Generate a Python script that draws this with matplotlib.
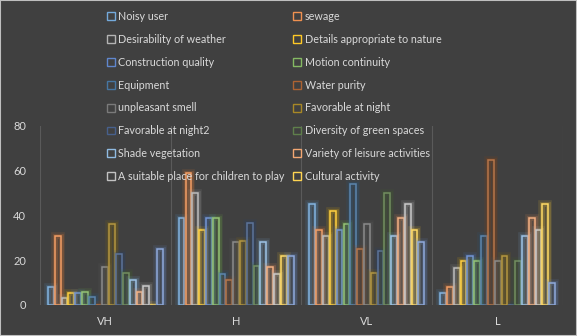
import numpy as np
import matplotlib
matplotlib.use("Agg")
import matplotlib.pyplot as plt
from matplotlib.patches import Rectangle
from matplotlib import colors as mcolors

plt.rcParams["font.family"] = ["Lato", "DejaVu Sans"]

# groups on the x axis
groups = ["VH", "H", "VL", "L"]

# one list per criterion, values for VH, H, VL, L
noisy_user = [8, 39, 45, 5.5]
sewage = [31, 59, 33.5, 8]
desirability_weather = [3, 50, 31, 16.5]
details_nature = [5.5, 33.5, 42, 19.5]
construction_quality = [5.5, 39, 33.5, 22]
motion_continuity = [6, 39, 36, 19.5]
equipment = [3.5, 14, 54, 31]
water_purity = [0, 11, 25, 65]
unpleasant_smell = [17, 28, 36, 19.5]
favorable_night = [36, 28.5, 14.5, 22]
favorable_night2 = [23, 36.5, 24, 0]
green_diversity = [14.5, 17.5, 50, 19.5]
shade_vegetation = [11, 28, 31, 31]
leisure_variety = [6, 17, 39, 39]
children_place = [8.5, 14, 45, 33.5]
cultural_activity = [0, 22, 33.5, 45]
other = [25, 22, 28, 10]

series_names = ["Noisy user", "sewage", "Desirability of weather",
                "Details appropriate to nature", "Construction quality",
                "Motion continuity", "Equipment", "Water purity",
                "unpleasant smell", "Favorable at night", "Favorable at night2",
                "Diversity of green spaces", "Shade vegetation",
                "Variety of leisure activities",
                "A suitable place for children to play", "Cultural activity",
                None]
series_values = [noisy_user, sewage, desirability_weather, details_nature,
                 construction_quality, motion_continuity, equipment,
                 water_purity, unpleasant_smell, favorable_night,
                 favorable_night2, green_diversity, shade_vegetation,
                 leisure_variety, children_place, cultural_activity, other]
series_colors = ["#5B9BD5", "#ED7D31", "#A5A5A5", "#FFC000", "#4472C4",
                 "#70AD47", "#255E91", "#9E480E", "#636363", "#997300",
                 "#264478", "#43682B", "#7CAFDD", "#F1975A", "#B7B7B7",
                 "#FFCD33", "#698ED0"]

bg = "#404040"
txt = "#D9D9D9"


def lighten(c, amt):
    r, g, b = mcolors.to_rgb(c)
    return (r + (1 - r) * amt, g + (1 - g) * amt, b + (1 - b) * amt)


fig = plt.figure(figsize=(5.77, 3.36), dpi=100, facecolor=bg)
ax = fig.add_axes([0.0693, 0.0923, 0.9064, 0.5327])
ax.set_facecolor(bg)

n = len(series_values)
w = 1 / (n + 2.19)  # excel style gap width
x = np.arange(len(groups))

for i, (vals, col) in enumerate(zip(series_values, series_colors)):
    pos = x + (i - (n - 1) / 2) * w
    # soft glow under the outline
    for lw, a in [(5.5, 0.12), (3.4, 0.22)]:
        ax.bar(pos, vals, width=w * 0.85, facecolor="none", edgecolor=col,
               linewidth=lw, alpha=a)
    ax.bar(pos, vals, width=w * 0.85, facecolor="none",
           edgecolor=lighten(col, 0.25), linewidth=1.1)

ax.set_xlim(-0.5, len(groups) - 0.5)
ax.set_ylim(0, 80)
ax.set_yticks([0, 20, 40, 60, 80])
ax.set_xticks(x)
ax.set_xticklabels(groups)
ax.tick_params(colors=txt, labelsize=8, length=0)
ax.tick_params(axis="x", pad=8)
ax.tick_params(axis="y", pad=10)
for s in ax.spines.values():
    s.set_visible(False)

# vertical lines between the groups
for b in np.arange(-0.5, len(groups), 1):
    ax.axvline(b, color="#5A5A5A", linewidth=0.8, zorder=0)

# legend, two columns filled row by row
handles = [Rectangle((0, 0), 1, 1, facecolor="none",
                     edgecolor=lighten(c, 0.15), linewidth=1.0)
           for c in series_colors[:16]]
order = list(range(0, 16, 2)) + list(range(1, 16, 2))
fig.legend([handles[k] for k in order], [series_names[k] for k in order],
           ncol=2, loc="upper left", bbox_to_anchor=(0.168, 0.996),
           frameon=False, fontsize=7.75, labelcolor=txt,
           handlelength=0.75, handleheight=0.75, handletextpad=0.35,
           columnspacing=0.75, labelspacing=1.1)

fig.patches.append(Rectangle((0, 0), 1, 1, transform=fig.transFigure,
                             facecolor="none", edgecolor="#BFBFBF",
                             linewidth=1.5))

fig.savefig("out.png", dpi=100, facecolor=bg)
